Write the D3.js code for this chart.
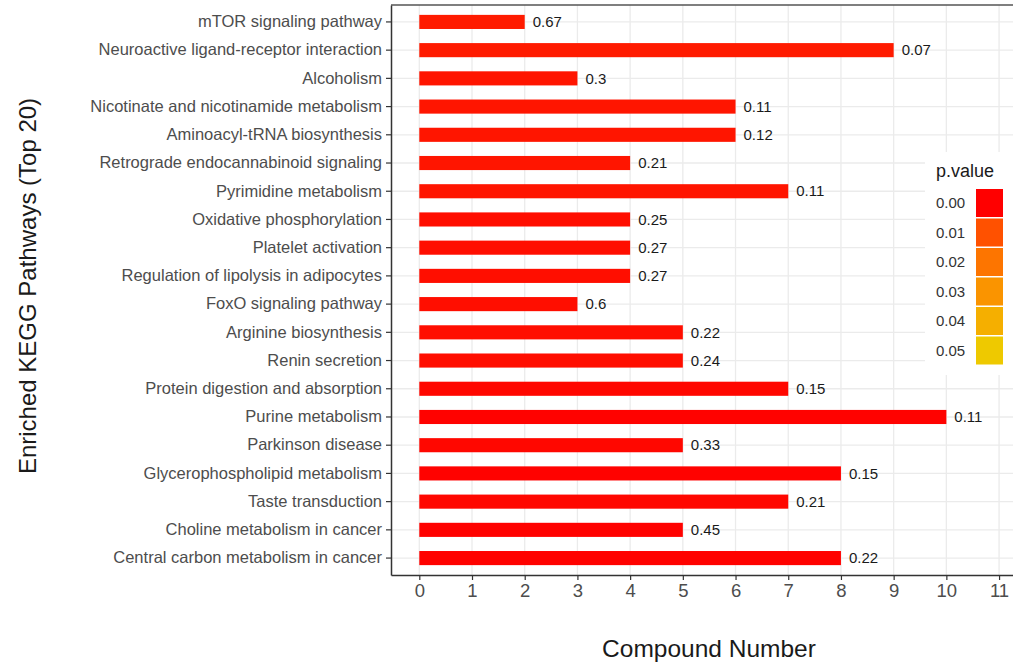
<!DOCTYPE html>
<html>
<head>
<meta charset="utf-8">
<script src="https://cdn.jsdelivr.net/npm/d3@7"></script>
<style>
  html, body { margin: 0; padding: 0; background: #fff; }
  svg { display: block; font-family: "Liberation Sans", Arial, sans-serif; }
</style>
</head>
<body>
<svg id="chart" width="1013" height="664"></svg>
<script>
// KEGG pathways, listed top to bottom
const pathways = [
  "mTOR signaling pathway",
  "Neuroactive ligand-receptor interaction",
  "Alcoholism",
  "Nicotinate and nicotinamide metabolism",
  "Aminoacyl-tRNA biosynthesis",
  "Retrograde endocannabinoid signaling",
  "Pyrimidine metabolism",
  "Oxidative phosphorylation",
  "Platelet activation",
  "Regulation of lipolysis in adipocytes",
  "FoxO signaling pathway",
  "Arginine biosynthesis",
  "Renin secretion",
  "Protein digestion and absorption",
  "Purine metabolism",
  "Parkinson disease",
  "Glycerophospholipid metabolism",
  "Taste transduction",
  "Choline metabolism in cancer",
  "Central carbon metabolism in cancer"
];

// number of compounds hit in each pathway
const compoundCounts = [2, 9, 3, 6, 6, 4, 7, 4, 4, 4, 3, 5, 5, 7, 10, 5, 8, 7, 5, 8];

// value printed at the end of each bar
const barLabels = ["0.67", "0.07", "0.3", "0.11", "0.12", "0.21", "0.11", "0.25", "0.27", "0.27",
                   "0.6", "0.22", "0.24", "0.15", "0.11", "0.33", "0.15", "0.21", "0.45", "0.22"];

// enrichment p value of each pathway (bar fill)
const pValues = [0.0015, 0.0015, 0.001, 0.001, 0.001, 0.001, 0.001, 0.0006, 0.0006, 0.0006,
                 0.0006, 0.0006, 0.0006, 0.0003, 0.0001, 0.0003, 0.0001, 0.0003, 0.0001, 0.0001];

// legend keys
const legendBreaks = [0.00, 0.01, 0.02, 0.03, 0.04, 0.05];
const xTicks = d3.range(0, 12);

const svg = d3.select("#chart");

const panel = { left: 391, right: 1027, top: 5, bottom: 575 };

const x = d3.scaleLinear()
  .domain([-0.537, 11.53])
  .range([panel.left, panel.right]);

// discrete axis with 0.6 of a step of space above the first and below the last row
const y = d3.scaleBand()
  .domain(pathways)
  .range([panel.top, panel.bottom])
  .paddingInner(0)
  .paddingOuter(0.1);

const fill = d3.scaleLinear()
  .domain([0, 0.05])
  .range(["#FF0000", "#EEC900"])
  .interpolate(d3.interpolateLab);

const cy = d => y(d) + y.bandwidth() / 2;

// panel background
svg.append("rect")
  .attr("x", panel.left).attr("y", panel.top)
  .attr("width", panel.right - panel.left).attr("height", panel.bottom - panel.top)
  .attr("fill", "#fff");

// grid lines
const grid = svg.append("g").attr("stroke", "#EBEBEB").attr("stroke-width", 1.3);
grid.selectAll(".gv").data(xTicks).join("line")
  .attr("x1", d => x(d)).attr("x2", d => x(d))
  .attr("y1", panel.top).attr("y2", panel.bottom);
grid.selectAll(".gh").data(pathways).join("line")
  .attr("x1", panel.left).attr("x2", panel.right)
  .attr("y1", d => cy(d)).attr("y2", d => cy(d));

// bars
const barH = y.step() * 0.5;
svg.append("g").selectAll("rect").data(pathways).join("rect")
  .attr("x", x(0))
  .attr("y", d => cy(d) - barH / 2)
  .attr("width", (d, i) => x(compoundCounts[i]) - x(0))
  .attr("height", barH)
  .attr("fill", (d, i) => fill(pValues[i]));

// bar-end labels
svg.append("g").selectAll("text").data(pathways).join("text")
  .attr("x", (d, i) => x(compoundCounts[i]) + 8)
  .attr("y", d => cy(d))
  .attr("dy", "0.35em")
  .attr("font-size", 15)
  .attr("fill", "#1a1a1a")
  .text((d, i) => barLabels[i]);

// panel border (top edge)
svg.append("line")
  .attr("x1", panel.left).attr("x2", panel.right)
  .attr("y1", panel.top).attr("y2", panel.top)
  .attr("stroke", "#555").attr("stroke-width", 1.5);

// y axis
const yAxis = svg.append("g")
  .attr("transform", `translate(${panel.left},0)`)
  .call(d3.axisLeft(y).tickSizeInner(5).tickSizeOuter(0).tickPadding(4));
yAxis.select(".domain").attr("stroke", "#333").attr("stroke-width", 1.5);
yAxis.selectAll(".tick line").attr("stroke", "#333").attr("stroke-width", 1.2);
yAxis.selectAll(".tick text")
  .attr("font-size", 16.5)
  .attr("font-family", "Liberation Sans, Arial, sans-serif")
  .attr("fill", "#4D4D4D");

// x axis
const xAxis = svg.append("g")
  .attr("transform", `translate(0,${panel.bottom})`)
  .call(d3.axisBottom(x).tickValues(xTicks).tickFormat(d3.format("d"))
    .tickSizeInner(5).tickSizeOuter(0).tickPadding(4));
xAxis.select(".domain").attr("stroke", "#333").attr("stroke-width", 1.5);
xAxis.selectAll(".tick line").attr("stroke", "#333").attr("stroke-width", 1.2);
xAxis.selectAll(".tick text")
  .attr("font-size", 18.5)
  .attr("font-family", "Liberation Sans, Arial, sans-serif")
  .attr("fill", "#4D4D4D");

// axis titles
svg.append("text")
  .attr("x", 709).attr("y", 657)
  .attr("text-anchor", "middle")
  .attr("font-size", 24.5)
  .attr("fill", "#1a1a1a")
  .text("Compound Number");

svg.append("text")
  .attr("transform", `translate(36,${(panel.top + panel.bottom) / 2 - 4}) rotate(-90)`)
  .attr("text-anchor", "middle")
  .attr("font-size", 24)
  .attr("fill", "#1a1a1a")
  .text("Enriched KEGG Pathways (Top 20)");

// legend
const legend = svg.append("g");
legend.append("rect")
  .attr("x", 925).attr("y", 152).attr("width", 100).attr("height", 223)
  .attr("fill", "#fff");
legend.append("text")
  .attr("x", 936).attr("y", 177)
  .attr("font-size", 18)
  .attr("fill", "#1a1a1a")
  .text("p.value");

const keyTop = 189, keyStep = 29.5;
legend.selectAll(".key").data(legendBreaks).join("rect")
  .attr("x", 976)
  .attr("y", (d, i) => keyTop + i * keyStep)
  .attr("width", 27)
  .attr("height", keyStep - 1.5)
  .attr("fill", d => fill(d));
legend.selectAll(".lab").data(legendBreaks).join("text")
  .attr("x", 936)
  .attr("y", (d, i) => keyTop + i * keyStep + (keyStep - 1.5) / 2)
  .attr("dy", "0.35em")
  .attr("font-size", 15)
  .attr("fill", "#333")
  .text(d => d3.format(".2f")(d));
</script>
</body>
</html>
